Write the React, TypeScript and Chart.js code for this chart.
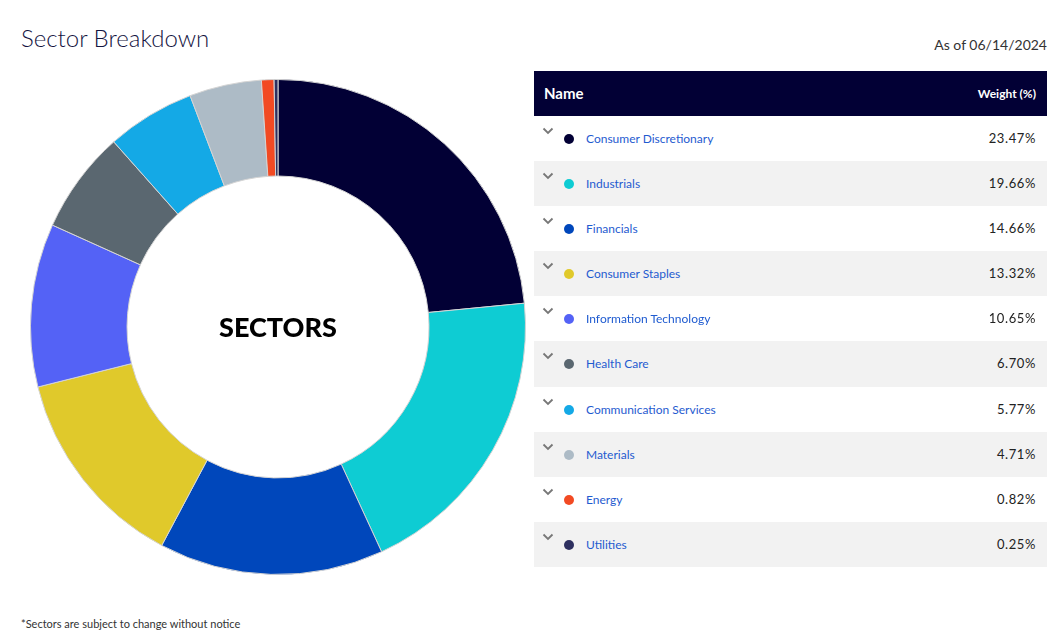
import React, { useEffect, useRef } from "react";
import { Chart, registerables } from "chart.js";

Chart.register(...registerables);

const sectors = [
  "Consumer Discretionary",
  "Industrials",
  "Financials",
  "Consumer Staples",
  "Information Technology",
  "Health Care",
  "Communication Services",
  "Materials",
  "Energy",
  "Utilities",
];
const weights = [23.47, 19.66, 14.66, 13.32, 10.65, 6.7, 5.77, 4.71, 0.82, 0.25];
const colors = [
  "#020035",
  "#0ECCD3",
  "#0047BB",
  "#E0C92B",
  "#5462F6",
  "#5A6770",
  "#14A9E6",
  "#ADBBC6",
  "#F24A23",
  "#2E3060",
];
const titleText = "Sector Breakdown";
const asOfText = "As of 06/14/2024";
const centerText = "SECTORS";
const footnote = "*Sectors are subject to change without notice";

const FONT = "Lato, 'Open Sans', sans-serif";

function Chevron() {
  return (
    <svg width="12" height="8" viewBox="0 0 12 8" style={{ position: "absolute", left: 8, top: 11 }}>
      <polyline points="1.5,1.5 6,6 10.5,1.5" fill="none" stroke="#777" strokeWidth="1.8" />
    </svg>
  );
}

export default function App() {
  const canvasRef = useRef<HTMLCanvasElement | null>(null);

  useEffect(() => {
    if (!canvasRef.current) return;
    const chart = new Chart(canvasRef.current, {
      type: "doughnut",
      data: {
        labels: sectors,
        datasets: [
          {
            data: weights,
            backgroundColor: colors,
            borderColor: "#d4d4d4",
            borderWidth: 1,
          },
        ],
      },
      options: {
        animation: false,
        responsive: false,
        maintainAspectRatio: false,
        cutout: "61%",
        rotation: 0,
        layout: { padding: 0 },
        plugins: {
          legend: { display: false },
          tooltip: { enabled: false },
          title: { display: false },
        },
      },
    });
    return () => chart.destroy();
  }, []);

  return (
    <div
      style={{
        position: "relative",
        width: 1048,
        height: 627,
        fontFamily: FONT,
        color: "#222",
      }}
    >
      <div
        style={{
          position: "absolute",
          left: 13,
          top: 15,
          fontSize: 24,
          fontWeight: 300,
          color: "#14143f",
          whiteSpace: "nowrap",
        }}
      >
        {titleText}
      </div>
      <div
        style={{
          position: "absolute",
          right: 9,
          top: 28,
          fontSize: 14,
          color: "#333",
          whiteSpace: "nowrap",
        }}
      >
        {asOfText}
      </div>

      <canvas
        ref={canvasRef}
        width={496}
        height={496}
        style={{ position: "absolute", left: 22, top: 71, width: 496, height: 496 }}
      />
      <div
        style={{
          position: "absolute",
          left: 170,
          top: 302,
          width: 200,
          textAlign: "center",
          fontSize: 27,
          fontWeight: 900,
          color: "#000",
          lineHeight: "34px",
        }}
      >
        {centerText}
      </div>

      <div style={{ position: "absolute", left: 526, top: 63, width: 513 }}>
        <div
          style={{
            position: "relative",
            height: 45,
            background: "#020035",
            color: "#fff",
            fontWeight: 700,
          }}
        >
          <span style={{ position: "absolute", left: 10, top: 13, fontSize: 15 }}>Name</span>
          <span style={{ position: "absolute", right: 11, top: 15, fontSize: 12 }}>Weight (%)</span>
        </div>
        {sectors.map((s, i) => (
          <div
            key={s}
            style={{
              position: "relative",
              height: 45.1,
              background: i % 2 === 1 ? "#f2f2f2" : "#fff",
            }}
          >
            <Chevron />
            <span
              style={{
                position: "absolute",
                left: 30,
                top: 18,
                width: 10,
                height: 10,
                borderRadius: 5,
                background: colors[i],
              }}
            />
            <span
              style={{
                position: "absolute",
                left: 52,
                top: 15,
                fontSize: 12,
                color: "#1f5bd0",
                whiteSpace: "nowrap",
              }}
            >
              {s}
            </span>
            <span
              style={{
                position: "absolute",
                right: 11,
                top: 14,
                fontSize: 13,
                letterSpacing: 0.6,
                color: "#222",
              }}
            >
              {weights[i].toFixed(2)}%
            </span>
          </div>
        ))}
      </div>

      <div
        style={{
          position: "absolute",
          left: 13,
          top: 609,
          fontSize: 11,
          color: "#333",
          whiteSpace: "nowrap",
        }}
      >
        {footnote}
      </div>
    </div>
  );
}
